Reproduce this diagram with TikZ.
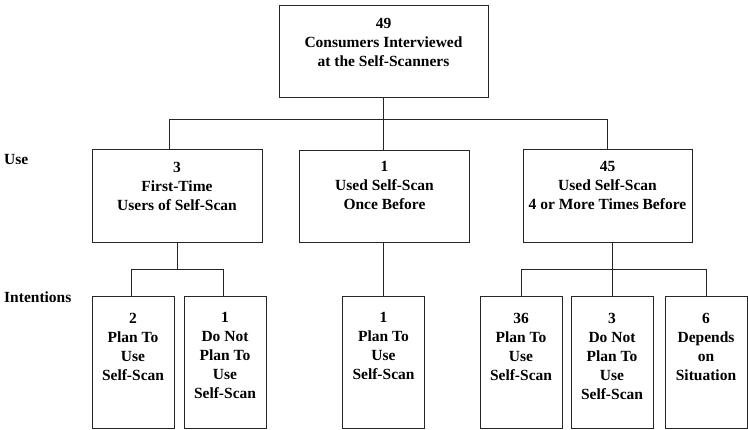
\documentclass[tikz,border=0pt]{standalone}
\usepackage{fontspec}
\setmainfont{Liberation Serif}
\begin{document}
\begin{tikzpicture}[x=1pt,y=1pt,
  boxst/.style={draw=black!85, line width=0.9pt, rectangle, inner sep=0pt},
  txt/.style={anchor=north, align=center, inner sep=0pt, font=\fontsize{15.5}{19}\selectfont\bfseries},
  side/.style={anchor=west, inner sep=0pt, font=\fontsize{15.5}{18}\selectfont\bfseries},
  conn/.style={draw=black!85, line width=0.9pt}]
\useasboundingbox (0,0) rectangle (748,-430);
\fill[white] (0,0) rectangle (748,-430);
% boxes
\node[boxst, minimum width=209, minimum height=92] (top) at (383.5,-51) {};
\node[boxst, minimum width=170, minimum height=93] (u1) at (177,-195.5) {};
\node[boxst, minimum width=170, minimum height=92] (u2) at (384.5,-196) {};
\node[boxst, minimum width=169, minimum height=93] (u3) at (607.5,-195.5) {};
\node[boxst, minimum width=82, minimum height=132] (i1) at (133,-362) {};
\node[boxst, minimum width=82, minimum height=132] (i2) at (225,-362) {};
\node[boxst, minimum width=82, minimum height=132] (i3) at (383.5,-362) {};
\node[boxst, minimum width=82, minimum height=132] (i4) at (521,-362) {};
\node[boxst, minimum width=82, minimum height=132] (i5) at (612,-362) {};
\node[boxst, minimum width=82, minimum height=132] (i6) at (706,-362) {};
% texts
\node[txt] (ttop) at ([yshift=-13]top.north) {49\\Consumers Interviewed\\at the Self-Scanners};
\node[txt] (tu1) at ([yshift=-13]u1.north) {3\\First-Time\\Users of Self-Scan};
\node[txt] (tu2) at ([yshift=-12]u2.north) {1\\Used Self-Scan\\Once Before};
\node[txt] (tu3) at ([yshift=-13]u3.north) {45\\Used Self-Scan\\4 or More Times Before};
\node[txt] (ti1) at ([yshift=-17]i1.north) {2\\Plan To\\Use\\Self-Scan};
\node[txt] (ti2) at ([yshift=-17]i2.north) {1\\Do Not\\Plan To\\Use\\Self-Scan};
\node[txt] (ti3) at ([yshift=-17]i3.north) {1\\Plan To\\Use\\Self-Scan};
\node[txt] (ti4) at ([yshift=-17]i4.north) {36\\Plan To\\Use\\Self-Scan};
\node[txt] (ti5) at ([yshift=-17]i5.north) {3\\Do Not\\Plan To\\Use\\Self-Scan};
\node[txt] (ti6) at ([yshift=-17]i6.north) {6\\Depends\\on\\Situation};
% side labels
\node[side] (luse) at (4,-160) {Use};
\node[side] (lint) at (4,-297) {Intentions};
% connectors
\draw[conn] (top.south) -- ++(0,-22) coordinate (j1);
\draw[conn] ([xshift=-8]u1.north) |- (j1) -| (u3.north);
\draw[conn] (j1) -- (j1 |- u2.north);
\draw[conn] (u1.south) -- ++(0,-27) coordinate (j2);
\draw[conn] ([xshift=-2]i1.north) |- (j2) -| ([xshift=-2]i2.north);
\draw[conn] (i3.north) -- (i3.north |- u2.south);
\draw[conn] (u3.south -| i5.north) -- ++(0,-27) coordinate (j3);
\draw[conn] (i4.north) |- (j3) -| (i6.north);
\draw[conn] (j3) -- (i5.north);
\end{tikzpicture}
\end{document}
